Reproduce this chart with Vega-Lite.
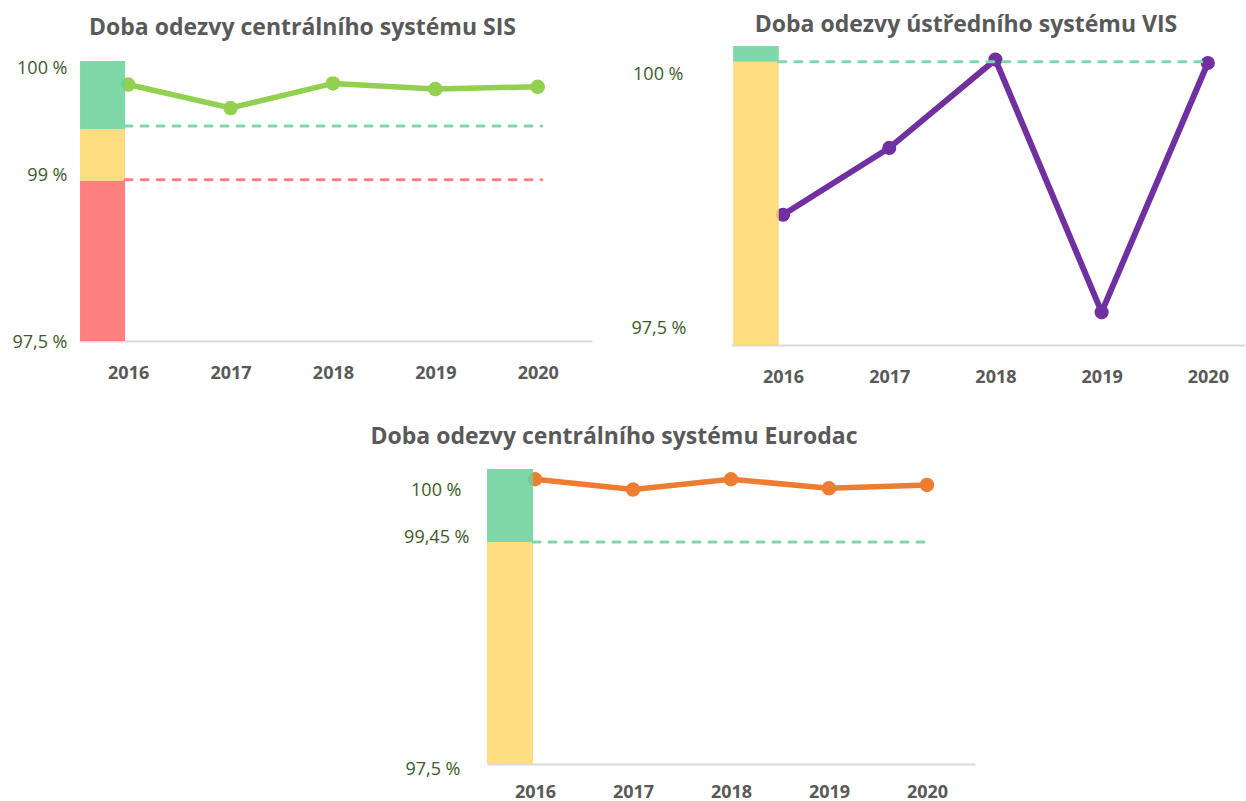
{
  "$schema": "https://vega.github.io/schema/vega-lite/v6.json",
  "padding": {"left": 11, "top": 14, "right": 0, "bottom": 0},
  "background": "white",
  "config": {
    "view": {"stroke": null},
    "font": "Open Sans",
    "axisX": {"ticks": false, "grid": false, "domainColor": "#d9d9d9", "domainWidth": 2, "labelFontWeight": "bold", "labelColor": "#595959", "labelFontSize": 18, "labelPadding": 23, "labelFont": "Open Sans"},
    "axisY": {"ticks": false, "grid": false, "domain": false, "labelColor": "#3c5a28", "labelFontSize": 18, "labelFont": "Open Sans"},
    "title": {"font": "Open Sans", "fontSize": 23, "fontWeight": "bold", "color": "#595959", "anchor": "middle"}
  },
  "vconcat": [
    {
      "spacing": 38,
      "hconcat": [
        {
          "width": 513, "height": 295,
          "title": {"text": "Doba odezvy centrálního systému SIS", "dx": -33, "offset": 6},
          "layer": [
            {
              "data": {"values": [
                {"year": 2016, "value": 99.79}, {"year": 2017, "value": 99.58}, {"year": 2018, "value": 99.80}, {"year": 2019, "value": 99.75}, {"year": 2020, "value": 99.77}
              ]},
              "mark": {"type": "line", "color": "#92d050", "strokeWidth": 5.5, "point": {"size": 210, "filled": true, "color": "#92d050", "opacity": 1}},
              "encoding": {
                "x": {"field": "year", "type": "quantitative", "title": null, "scale": {"domain": [2015.52, 2020.53], "nice": false, "zero": false}, "axis": {"values": [2016, 2017, 2018, 2019, 2020], "format": "d"}},
                "y": {"field": "value", "type": "quantitative", "title": null, "scale": {"domain": [97.5, 100.134], "nice": false, "zero": false}, "axis": {"values": [97.5, 99, 100], "labelExpr": "replace(toString(datum.value), '.', ',') + ' %'", "labelPadding": 12, "labelOffset": {"condition": [{"test": "datum.value === 100", "value": 7}, {"test": "datum.value === 99", "value": 2}], "value": 1}}}
              }
            },
            {
              "data": {"values": [
                {"zone": "red", "lo": 97.5, "hi": 98.93, "from": 2015.53, "to": 2015.97},
                {"zone": "yellow", "lo": 98.93, "hi": 99.39, "from": 2015.53, "to": 2015.97},
                {"zone": "green", "lo": 99.39, "hi": 100, "from": 2015.53, "to": 2015.97}
              ]},
              "mark": {"type": "rect", "fillOpacity": 0.85},
              "encoding": {
                "x": {"field": "from", "type": "quantitative", "title": null, "scale": {"domain": [2015.52, 2020.53], "nice": false, "zero": false}, "axis": {"values": [2016, 2017, 2018, 2019, 2020], "format": "d"}},
                "x2": {"field": "to"},
                "y": {"field": "lo", "type": "quantitative", "title": null, "scale": {"domain": [97.5, 100.134], "nice": false, "zero": false}, "axis": {"values": [97.5, 99, 100], "labelExpr": "replace(toString(datum.value), '.', ',') + ' %'", "labelPadding": 12, "labelOffset": {"condition": [{"test": "datum.value === 100", "value": 7}, {"test": "datum.value === 99", "value": 2}], "value": 1}}},
                "y2": {"field": "hi"},
                "fill": {"field": "zone", "type": "nominal", "scale": {"domain": ["red", "yellow", "green"], "range": ["#ff6a6a", "#ffd76a", "#69d199"]}, "legend": null}
              }
            },
            {
              "data": {"values": [
                {"zone": "red", "level": 98.94, "from": 2015.97, "to": 2020.04},
                {"zone": "green", "level": 99.42, "from": 2015.97, "to": 2020.04}
              ]},
              "mark": {"type": "rule", "strokeWidth": 3, "strokeDash": [7, 9], "strokeCap": "round"},
              "encoding": {
                "x": {"field": "from", "type": "quantitative", "title": null, "scale": {"domain": [2015.52, 2020.53], "nice": false, "zero": false}, "axis": {"values": [2016, 2017, 2018, 2019, 2020], "format": "d"}},
                "x2": {"field": "to"},
                "y": {"field": "level", "type": "quantitative", "title": null, "scale": {"domain": [97.5, 100.134], "nice": false, "zero": false}, "axis": {"values": [97.5, 99, 100], "labelExpr": "replace(toString(datum.value), '.', ',') + ' %'", "labelPadding": 12, "labelOffset": {"condition": [{"test": "datum.value === 100", "value": 7}, {"test": "datum.value === 99", "value": 2}], "value": 1}}},
                "stroke": {"field": "zone", "type": "nominal", "scale": {"domain": ["red", "yellow", "green"], "range": ["#ff8080", "#ffdd80", "#80d8a8"]}, "legend": null}
              }
            }
          ]
        },
        {
          "width": 514, "height": 299,
          "title": {"text": "Doba odezvy ústředního systému VIS", "dx": -22, "offset": 9},
          "layer": [
            {
              "data": {"values": [
                {"year": 2016, "value": 98.65}, {"year": 2017, "value": 99.24}, {"year": 2018, "value": 100.02}, {"year": 2019, "value": 97.79}, {"year": 2020, "value": 99.99}
              ]},
              "mark": {"type": "line", "color": "#7030a0", "strokeWidth": 6, "point": {"size": 200, "filled": true, "color": "#7030a0", "opacity": 1}},
              "encoding": {
                "x": {"field": "year", "type": "quantitative", "title": null, "scale": {"domain": [2015.51, 2020.35], "nice": false, "zero": false}, "axis": {"values": [2016, 2017, 2018, 2019, 2020], "format": "d"}},
                "y": {"field": "value", "type": "quantitative", "title": null, "scale": {"domain": [97.5, 100.14], "nice": false, "zero": false}, "axis": {"values": [97.5, 100], "labelExpr": "replace(toString(datum.value), '.', ',') + ' %'", "labelPadding": {"condition": {"test": "datum.value === 100", "value": 48}, "value": 45}, "labelOffset": {"condition": {"test": "datum.value === 100", "value": 13}, "value": -17}}}
              }
            },
            {
              "data": {"values": [
                {"zone": "yellow", "lo": 97.5, "hi": 100, "from": 2015.53, "to": 2015.96},
                {"zone": "green", "lo": 100, "hi": 100.14, "from": 2015.53, "to": 2015.96}
              ]},
              "mark": {"type": "rect", "fillOpacity": 0.85},
              "encoding": {
                "x": {"field": "from", "type": "quantitative", "title": null, "scale": {"domain": [2015.51, 2020.35], "nice": false, "zero": false}, "axis": {"values": [2016, 2017, 2018, 2019, 2020], "format": "d"}},
                "x2": {"field": "to"},
                "y": {"field": "lo", "type": "quantitative", "title": null, "scale": {"domain": [97.5, 100.14], "nice": false, "zero": false}, "axis": {"values": [97.5, 100], "labelExpr": "replace(toString(datum.value), '.', ',') + ' %'", "labelPadding": {"condition": {"test": "datum.value === 100", "value": 48}, "value": 45}, "labelOffset": {"condition": {"test": "datum.value === 100", "value": 13}, "value": -17}}},
                "y2": {"field": "hi"},
                "fill": {"field": "zone", "type": "nominal", "scale": {"domain": ["red", "yellow", "green"], "range": ["#ff6a6a", "#ffd76a", "#69d199"]}, "legend": null}
              }
            },
            {
              "data": {"values": [
                {"zone": "green", "level": 100, "from": 2015.96, "to": 2019.98}
              ]},
              "mark": {"type": "rule", "strokeWidth": 3, "strokeDash": [7, 9], "strokeCap": "round"},
              "encoding": {
                "x": {"field": "from", "type": "quantitative", "title": null, "scale": {"domain": [2015.51, 2020.35], "nice": false, "zero": false}, "axis": {"values": [2016, 2017, 2018, 2019, 2020], "format": "d"}},
                "x2": {"field": "to"},
                "y": {"field": "level", "type": "quantitative", "title": null, "scale": {"domain": [97.5, 100.14], "nice": false, "zero": false}, "axis": {"values": [97.5, 100], "labelExpr": "replace(toString(datum.value), '.', ',') + ' %'", "labelPadding": {"condition": {"test": "datum.value === 100", "value": 48}, "value": 45}, "labelOffset": {"condition": {"test": "datum.value === 100", "value": 13}, "value": -17}}},
                "stroke": {"field": "zone", "type": "nominal", "scale": {"domain": ["red", "yellow", "green"], "range": ["#ff8080", "#ffdd80", "#80d8a8"]}, "legend": null}
              }
            }
          ]
        }
      ]
    },
    {
      "spacing": 0,
      "hconcat": [
        {
          "width": 291, "height": 10,
          "data": {"values": []},
          "mark": "point"
        },
        {
          "width": 488, "height": 295,
          "title": {"text": "Doba odezvy centrálního systému Eurodac", "dx": -117, "offset": 19},
          "layer": [
            {
              "data": {"values": [
                {"year": 2016, "value": 100.0}, {"year": 2017, "value": 99.91}, {"year": 2018, "value": 100.0}, {"year": 2019, "value": 99.92}, {"year": 2020, "value": 99.95}
              ]},
              "mark": {"type": "line", "color": "#ed7d31", "strokeWidth": 5.5, "point": {"size": 210, "filled": true, "color": "#ed7d31", "opacity": 1}},
              "encoding": {
                "x": {"field": "year", "type": "quantitative", "title": null, "scale": {"domain": [2015.51, 2020.49], "nice": false, "zero": false}, "axis": {"values": [2016, 2017, 2018, 2019, 2020], "format": "d", "labelPadding": 19}},
                "y": {"field": "value", "type": "quantitative", "title": null, "scale": {"domain": [97.5, 100.09], "nice": false, "zero": false}, "axis": {"values": [97.5, 99.45, 100], "labelExpr": "replace(toString(datum.value), '.', ',') + ' %'", "labelPadding": {"condition": [{"test": "datum.value === 100", "value": 26}, {"test": "datum.value === 99.45", "value": 18}], "value": 27}, "labelOffset": {"condition": [{"test": "datum.value === 100", "value": 11}, {"test": "datum.value === 99.45", "value": -4}], "value": 5}}}
              }
            },
            {
              "data": {"values": [
                {"zone": "yellow", "lo": 97.5, "hi": 99.45, "from": 2015.51, "to": 2015.98},
                {"zone": "green", "lo": 99.45, "hi": 100.09, "from": 2015.51, "to": 2015.98}
              ]},
              "mark": {"type": "rect", "fillOpacity": 0.85},
              "encoding": {
                "x": {"field": "from", "type": "quantitative", "title": null, "scale": {"domain": [2015.51, 2020.49], "nice": false, "zero": false}, "axis": {"values": [2016, 2017, 2018, 2019, 2020], "format": "d", "labelPadding": 19}},
                "x2": {"field": "to"},
                "y": {"field": "lo", "type": "quantitative", "title": null, "scale": {"domain": [97.5, 100.09], "nice": false, "zero": false}, "axis": {"values": [97.5, 99.45, 100], "labelExpr": "replace(toString(datum.value), '.', ',') + ' %'", "labelPadding": {"condition": [{"test": "datum.value === 100", "value": 26}, {"test": "datum.value === 99.45", "value": 18}], "value": 27}, "labelOffset": {"condition": [{"test": "datum.value === 100", "value": 11}, {"test": "datum.value === 99.45", "value": -4}], "value": 5}}},
                "y2": {"field": "hi"},
                "fill": {"field": "zone", "type": "nominal", "scale": {"domain": ["red", "yellow", "green"], "range": ["#ff6a6a", "#ffd76a", "#69d199"]}, "legend": null}
              }
            },
            {
              "data": {"values": [
                {"zone": "green", "level": 99.45, "from": 2015.98, "to": 2020.03}
              ]},
              "mark": {"type": "rule", "strokeWidth": 3, "strokeDash": [7, 9], "strokeCap": "round"},
              "encoding": {
                "x": {"field": "from", "type": "quantitative", "title": null, "scale": {"domain": [2015.51, 2020.49], "nice": false, "zero": false}, "axis": {"values": [2016, 2017, 2018, 2019, 2020], "format": "d", "labelPadding": 19}},
                "x2": {"field": "to"},
                "y": {"field": "level", "type": "quantitative", "title": null, "scale": {"domain": [97.5, 100.09], "nice": false, "zero": false}, "axis": {"values": [97.5, 99.45, 100], "labelExpr": "replace(toString(datum.value), '.', ',') + ' %'", "labelPadding": {"condition": [{"test": "datum.value === 100", "value": 26}, {"test": "datum.value === 99.45", "value": 18}], "value": 27}, "labelOffset": {"condition": [{"test": "datum.value === 100", "value": 11}, {"test": "datum.value === 99.45", "value": -4}], "value": 5}}},
                "stroke": {"field": "zone", "type": "nominal", "scale": {"domain": ["red", "yellow", "green"], "range": ["#ff8080", "#ffdd80", "#80d8a8"]}, "legend": null}
              }
            }
          ]
        }
      ]
    }
  ],
  "spacing": 40
}
